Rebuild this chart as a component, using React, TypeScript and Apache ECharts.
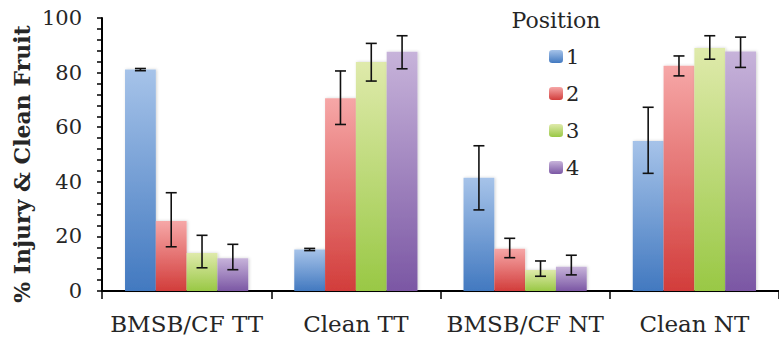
import React, { useEffect, useRef } from "react";
import * as echarts from "echarts";

const categories = ["BMSB/CF TT", "Clean TT", "BMSB/CF NT", "Clean NT"];
const seriesNames = ["1", "2", "3", "4"];
const pos1 = [81.1, 15.2, 41.5, 54.9];
const pos2 = [25.6, 70.6, 15.5, 82.5];
const pos3 = [13.9, 83.9, 7.7, 89.0];
const pos4 = [12.0, 87.6, 8.9, 87.7];
const err1Low = [80.7, 14.8, 29.7, 43.1];
const err1High = [81.5, 15.6, 53.2, 67.3];
const err2Low = [16.2, 61.0, 12.2, 78.8];
const err2High = [36.0, 80.6, 19.3, 86.1];
const err3Low = [8.5, 76.9, 5.4, 84.9];
const err3High = [20.4, 90.7, 11.0, 93.5];
const err4Low = [7.8, 81.4, 5.9, 81.9];
const err4High = [17.1, 93.5, 13.1, 93.0];
const yTicks = [0, 20, 40, 60, 80, 100];

const values = [pos1, pos2, pos3, pos4];
const lows = [err1Low, err2Low, err3Low, err4Low];
const highs = [err1High, err2High, err3High, err4High];

const gradients = [
  ["#a6c3e9", "#4279c0"],
  ["#f6a7a7", "#d23d3b"],
  ["#dfeaab", "#99c845"],
  ["#c7b3da", "#7b57a4"],
];

const FONT = "DejaVu Serif";
const TEXT = "#262626";

export default function App() {
  const ref = useRef<HTMLDivElement>(null);
  useEffect(() => {
    if (!ref.current) return;
    const chart = echarts.init(ref.current, undefined, { renderer: "svg" });
    const barSeries = values.map((vals, i) => ({
      name: seriesNames[i],
      type: "bar",
      data: vals,
      barWidth: "18.2%",
      barGap: "0%",
      itemStyle: {
        color: new echarts.graphic.LinearGradient(0, 0, 0, 1, [
          { offset: 0, color: gradients[i][0] },
          { offset: 1, color: gradients[i][1] },
        ]),
        shadowColor: "rgba(0,0,0,0.18)",
        shadowBlur: 3,
        shadowOffsetX: 1,
      },
    }));
    const errData: number[][] = [];
    for (let s = 0; s < 4; s++) {
      for (let c = 0; c < categories.length; c++) {
        errData.push([c, lows[s][c], highs[s][c], s]);
      }
    }
    const errSeries = {
      type: "custom",
      name: "err",
      data: errData,
      z: 10,
      encode: { x: 0, y: [1, 2] },
      renderItem: (params: any, api: any) => {
        const c = api.value(0);
        const lo = api.value(1);
        const hi = api.value(2);
        const s = api.value(3);
        const bandW = api.size([1, 0])[0];
        const bw = bandW * 0.182;
        const center = api.coord([c, lo]);
        const x = center[0] + (s - 1.5) * bw;
        const yLo = api.coord([c, lo])[1];
        const yHi = api.coord([c, hi])[1];
        const cap = 5.5;
        const style = { stroke: "#111", lineWidth: 1.6 };
        return {
          type: "group",
          children: [
            { type: "line", shape: { x1: x, y1: yLo, x2: x, y2: yHi }, style },
            { type: "line", shape: { x1: x - cap, y1: yLo, x2: x + cap, y2: yLo }, style },
            { type: "line", shape: { x1: x - cap, y1: yHi, x2: x + cap, y2: yHi }, style },
          ],
        };
      },
    };
    chart.setOption({
      animation: false,
      grid: { left: 102, right: -3, top: 18, bottom: 50, containLabel: false },
      legend: {
        data: seriesNames,
        orient: "vertical",
        left: 549,
        top: 46,
        padding: 0,
        itemWidth: 14,
        itemHeight: 13,
        itemGap: 16,
        selectedMode: false,
        textStyle: { fontFamily: FONT, fontSize: 21, color: TEXT, padding: [0, 0, 0, -2] },
      },
      xAxis: {
        type: "category",
        data: categories,
        axisLine: { lineStyle: { color: "#000", width: 2 } },
        axisTick: { show: true, inside: false, length: 8, lineStyle: { color: "#000", width: 1.5 } },
        axisLabel: { interval: 0, fontFamily: FONT, fontSize: 23, color: TEXT, margin: 21 },
      },
      yAxis: {
        type: "value",
        min: 0,
        max: 100,
        interval: 20,
        axisLine: { show: true, lineStyle: { color: "#000", width: 2 } },
        axisTick: { show: true, length: 5, lineStyle: { color: "#000", width: 1.5 } },
        minorTick: { show: true, splitNumber: 5, length: 5, lineStyle: { color: "#000", width: 1.5 } },
        splitLine: { show: false },
        axisLabel: {
          fontFamily: FONT,
          fontSize: 21,
          color: TEXT,
          margin: 20,
          formatter: (v: number) => (yTicks.includes(v) ? String(v) : ""),
        },
      },
      graphic: [
        {
          type: "text",
          x: 22,
          y: 164,
          rotation: Math.PI / 2,
          style: {
            text: "% Injury & Clean Fruit",
            fontFamily: FONT,
            fontSize: 22,
            fontWeight: "bold",
            fill: TEXT,
            textAlign: "center",
            textVerticalAlign: "middle",
          },
        },
        {
          type: "text",
          x: 556,
          y: 20,
          style: {
            text: "Position",
            fontFamily: FONT,
            fontSize: 22,
            fill: TEXT,
            textAlign: "center",
            textVerticalAlign: "middle",
          },
        },
      ],
      series: [...barSeries, errSeries],
    });
    return () => chart.dispose();
  }, []);
  return (
    <div
      ref={ref}
      style={{ position: "fixed", left: 0, top: 0, width: 779, height: 341, background: "#fff" }}
    />
  );
}
